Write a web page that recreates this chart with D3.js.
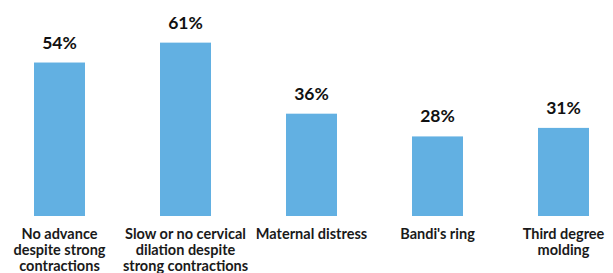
<!DOCTYPE html>
<html>
<head>
<meta charset="utf-8">
<script src="https://cdn.jsdelivr.net/npm/d3@7"></script>
<style>
  body { margin: 0; background: #fff; }
  svg { display: block; }
</style>
</head>
<body>
<svg id="chart" width="613" height="273"></svg>
<script>
// data
const categories = [
  ["No advance", "despite strong", "contractions"],
  ["Slow or no cervical", "dilation despite", "strong contractions"],
  ["Maternal distress"],
  ["Bandi's ring"],
  ["Third degree", "molding"]
];
const values = [54, 61, 36, 28, 31];

const width = 613;
const height = 273;
const baseline = 216;

const svg = d3.select('#chart');
const g = svg.append('g');

// scales
const step = 126;
const xScale = d3.scaleBand()
  .domain(d3.range(values.length))
  .range([-3.5, -3.5 + step * values.length])
  .paddingInner(75 / 126)
  .paddingOuter(75 / 252);
const yScale = d3.scaleLinear().domain([0, 76]).range([baseline, 0]);

// bars
g.selectAll('.bar')
  .data(values)
  .enter().append('rect')
  .attr('class', 'bar')
  .attr('x', (d, i) => xScale(i))
  .attr('y', d => yScale(d))
  .attr('width', xScale.bandwidth())
  .attr('height', d => baseline - yScale(d))
  .attr('fill', '#62B0E2');

// value labels
g.selectAll('.val')
  .data(values)
  .enter().append('text')
  .attr('class', 'val')
  .attr('x', (d, i) => xScale(i) + xScale.bandwidth() / 2)
  .attr('y', d => yScale(d) - 14)
  .attr('text-anchor', 'middle')
  .attr('font-family', 'Lato, sans-serif')
  .attr('font-weight', 'bold')
  .attr('font-size', 17.5)
  .attr('fill', '#111')
  .text(d => d + '%');

// category labels
const cat = g.selectAll('.cat')
  .data(categories)
  .enter().append('text')
  .attr('class', 'cat')
  .attr('text-anchor', 'middle')
  .attr('font-family', 'Lato, sans-serif')
  .attr('font-weight', 'bold')
  .attr('font-size', 14.5)
  .attr('fill', '#1a1a1a');

cat.selectAll('tspan')
  .data((d, i) => d.map(line => ({ line, i })))
  .enter().append('tspan')
  .attr('x', d => xScale(d.i) + xScale.bandwidth() / 2)
  .attr('y', (d, j) => 239 + j * 16)
  .text(d => d.line);
</script>
</body>
</html>
